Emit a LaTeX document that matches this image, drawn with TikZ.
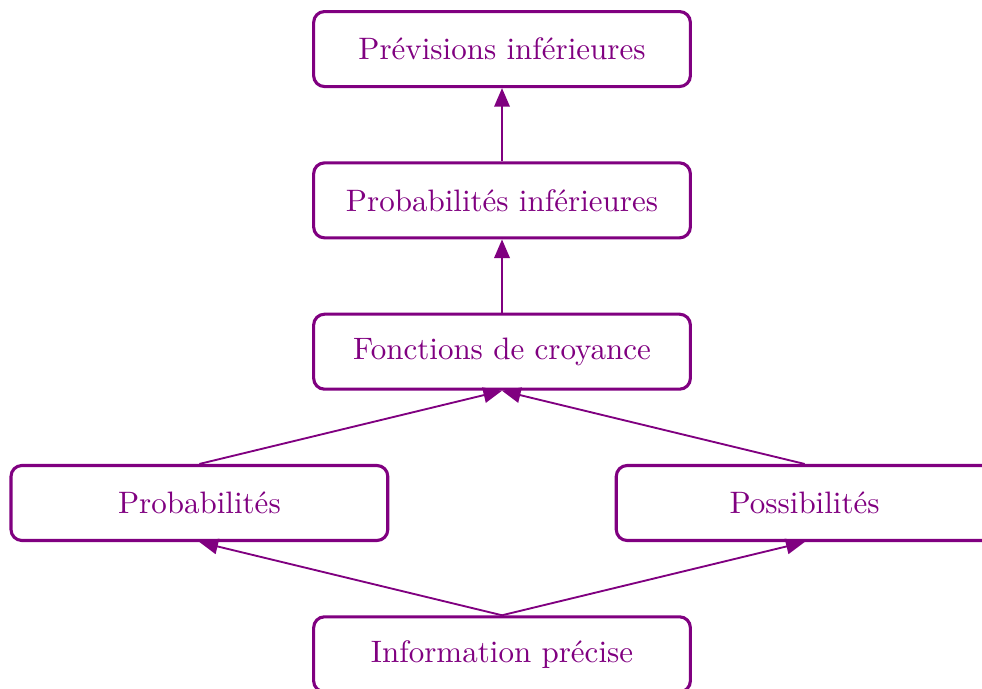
\documentclass[tikz,border=0pt]{standalone}
\usepackage{tikz}
\usetikzlibrary{arrows.meta}
\definecolor{violetfonce}{RGB}{128,0,128}

\begin{document}
\begin{tikzpicture}[
  boite/.style={draw=violetfonce, line width=1pt, rounded corners=3.5pt, text=violetfonce,
    minimum width=4.27cm, minimum height=0.85cm},
  fleche/.style={-{Triangle[length=6pt,width=5pt]}, semithick, violetfonce}]
  \useasboundingbox (-5.69,0.556) rectangle (5.44,-7.245);
  \node[boite] (prev) at (0,0) {Prévisions inférieures};
  \node[boite] (pinf) at (0,-1.715) {Probabilités inférieures};
  \node[boite] (croy) at (0,-3.43) {Fonctions de croyance};
  \node[boite] (prob) at (-3.43,-5.145) {Probabilités};
  \node[boite] (poss) at (3.43,-5.145) {Possibilités};
  \node[boite] (info) at (0,-6.86) {Information précise};
  \path[fleche]
  (pinf.north) edge (prev.south)
  (croy.north) edge (pinf.south)
  (prob.north) edge (croy.south)
  (poss.north) edge (croy.south)
  (info.north) edge (prob.south)
  edge (poss.south);
\end{tikzpicture}
\end{document}
